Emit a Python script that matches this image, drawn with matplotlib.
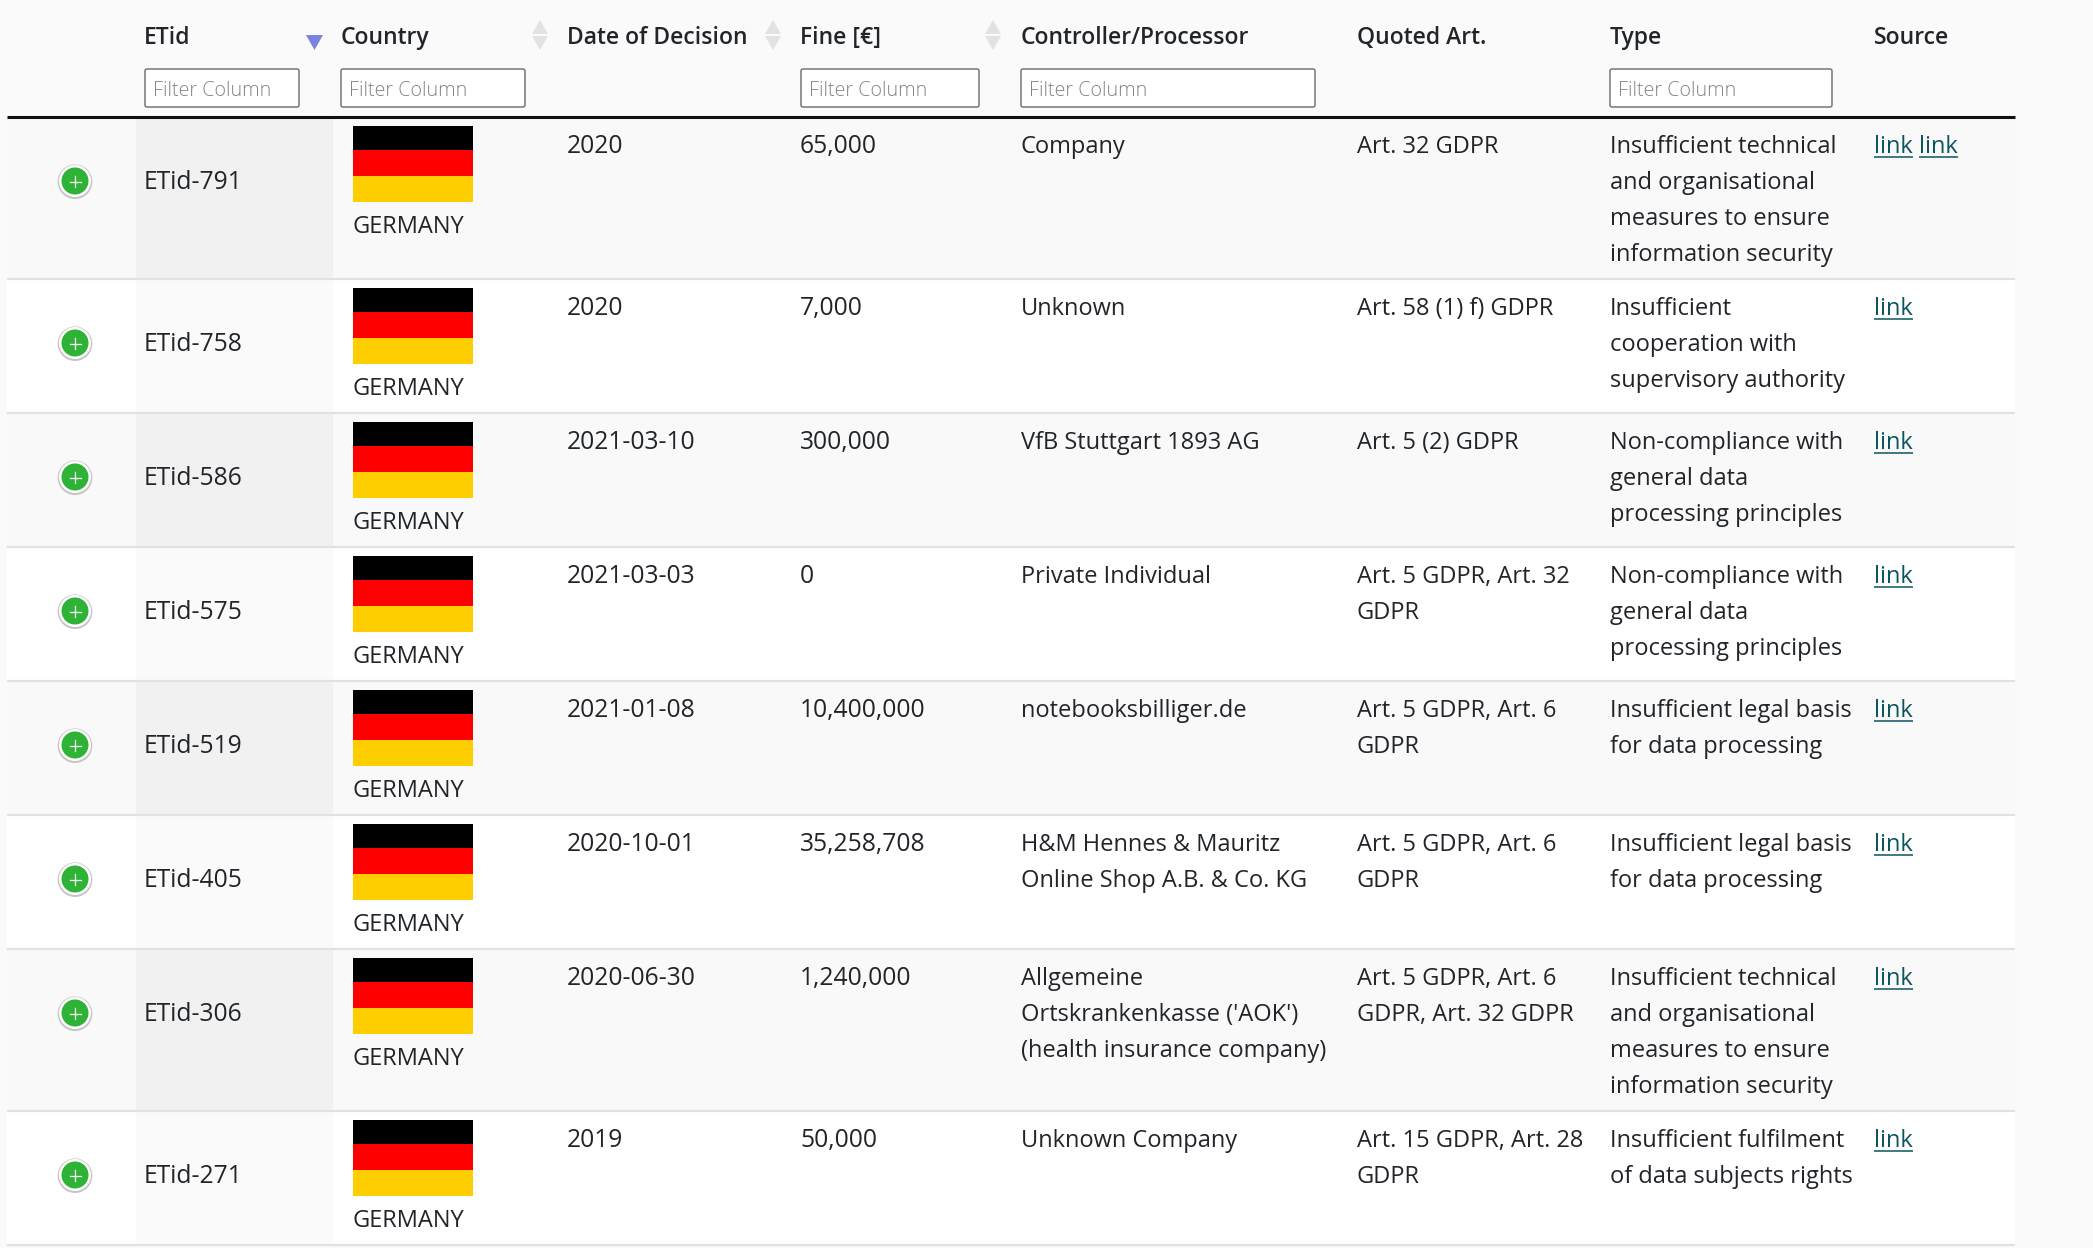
import matplotlib
matplotlib.use("Agg")
import matplotlib.pyplot as plt
from matplotlib.patches import Circle, FancyBboxPatch, Polygon

# ---- data ----
headers = ["ETid", "Country", "Date of Decision", "Fine [€]", "Controller/Processor", "Quoted Art.", "Type", "Source"]
etids = ["ETid-791", "ETid-758", "ETid-586", "ETid-575", "ETid-519", "ETid-405", "ETid-306", "ETid-271"]
countries = ["GERMANY"] * 8
dates = ["2020", "2020", "2021-03-10", "2021-03-03", "2021-01-08", "2020-10-01", "2020-06-30", "2019"]
fines = [65000, 7000, 300000, 0, 10400000, 35258708, 1240000, 50000]
controllers = [
    ["Company"], ["Unknown"], ["VfB Stuttgart 1893 AG"], ["Private Individual"],
    ["notebooksbilliger.de"], ["H&M Hennes & Mauritz", "Online Shop A.B. & Co. KG"],
    ["Allgemeine", "Ortskrankenkasse ('AOK')", "(health insurance company)"], ["Unknown Company"],
]
articles = [
    ["Art. 32 GDPR"], ["Art. 58 (1) f) GDPR"], ["Art. 5 (2) GDPR"], ["Art. 5 GDPR, Art. 32", "GDPR"],
    ["Art. 5 GDPR, Art. 6", "GDPR"], ["Art. 5 GDPR, Art. 6", "GDPR"],
    ["Art. 5 GDPR, Art. 6", "GDPR, Art. 32 GDPR"], ["Art. 15 GDPR, Art. 28", "GDPR"],
]
types = [
    ["Insufficient technical", "and organisational", "measures to ensure", "information security"],
    ["Insufficient", "cooperation with", "supervisory authority"],
    ["Non-compliance with", "general data", "processing principles"],
    ["Non-compliance with", "general data", "processing principles"],
    ["Insufficient legal basis", "for data processing"],
    ["Insufficient legal basis", "for data processing"],
    ["Insufficient technical", "and organisational", "measures to ensure", "information security"],
    ["Insufficient fulfilment", "of data subjects rights"],
]
link_counts = [2, 1, 1, 1, 1, 1, 1, 1]
placeholder = "Filter Column"

# ---- style / layout ----
plt.rcParams["font.family"] = ["Open Sans", "DejaVu Sans"]
W, H = 2093, 1248
PT = 0.72
FS = 23.65 * PT
FS_NUM = 24.6 * PT
FS_HEAD = 22.9 * PT
TXT = "#212529"
LINK = "#0b5560"
col_x = [144, 341, 567, 800, 1021, 1357, 1610, 1874]
flag_x, flag_w = 353, 120
left, right = 7, 2015
sort_l, sort_r = 136, 333
header_bottom = 117
filters = {0: (145, 154), 1: (341, 184), 3: (801, 178), 4: (1021, 294), 6: (1610, 222)}
sort_arrows = {1: 540, 2: 773, 3: 993}

fig = plt.figure(figsize=(W / 100, H / 100), dpi=100, facecolor="#fafafa")
ax = fig.add_axes([0, 0, 1, 1])
ax.set_xlim(0, W)
ax.set_ylim(H, 0)
ax.axis("off")

# headers
for j, h in enumerate(headers):
    ax.text(col_x[j], 44, h, fontsize=FS_HEAD, color=TXT, weight=600, va="baseline")
for j, (x, w) in filters.items():
    ax.add_patch(FancyBboxPatch((x + 2, 71), w - 4, 34, boxstyle="round,pad=2,rounding_size=2",
                                fc="white", ec="#767676", lw=1.1))
    ax.text(x + 8, 96, placeholder, fontsize=19.8 * PT, color="#858585", va="baseline", weight=300)
for x in sort_arrows.values():
    ax.add_patch(Polygon([(x - 8, 34), (x + 8, 34), (x, 20)], fc="#e2e2e2", ec="none"))
    ax.add_patch(Polygon([(x - 8, 36), (x + 8, 36), (x, 50)], fc="#e2e2e2", ec="none"))
ax.add_patch(Polygon([(306, 35), (323, 35), (314.5, 50)], fc="#7b83e0", ec="none"))


def lines_at(x, top, lines, color=TXT, size=FS):
    for k, s in enumerate(lines):
        ax.text(x, top + 36 + 36 * k, s, fontsize=size, color=color, va="baseline")


# rows
fig.canvas.draw()
rend = fig.canvas.get_renderer()
top = header_bottom
for i in range(len(etids)):
    n = max(len(controllers[i]), len(articles[i]), len(types[i]))
    h = max(134, n * 36 + 18)
    odd = i % 2 == 0
    ax.barh(top, right - left, height=h, left=left, align="edge", color="#f9f9f9" if odd else "white", lw=0, zorder=0)
    ax.barh(top, sort_r - sort_l, height=h, left=sort_l, align="edge", color="#f1f1f1" if odd else "#fafafa", lw=0, zorder=0.5)
    ax.plot([left, right], [top + h, top + h], color="#dee2e6", lw=2.2 * PT, solid_capstyle="butt", zorder=1)

    # expand button
    cy = top + 64
    ax.add_patch(Circle((75, cy + 0.7), 17.3, fc="#c4c4c4", ec="none", zorder=2))
    ax.add_patch(Circle((75, cy), 16, fc="white", ec="none", zorder=2.1))
    ax.add_patch(Circle((75, cy), 13.5, fc="#2fb336", ec="none", zorder=2.2))
    ax.plot([69.5, 80.5], [cy + 0.5, cy + 0.5], color="white", lw=0.9, zorder=3)
    ax.plot([75, 75], [cy - 5, cy + 6], color="white", lw=0.9, zorder=3)

    ax.text(col_x[0], top + 72, etids[i], fontsize=FS_NUM, color=TXT, va="baseline")

    # flag
    ax.barh(top + 9, flag_w, height=24, left=flag_x, align="edge", color="#000000", lw=0, zorder=2)
    ax.barh(top + 33, flag_w, height=26, left=flag_x, align="edge", color="#ff0000", lw=0, zorder=2)
    ax.barh(top + 59, flag_w, height=26, left=flag_x, align="edge", color="#ffce00", lw=0, zorder=2)
    ax.text(flag_x, top + 116, countries[i], fontsize=FS, color=TXT, va="baseline")

    lines_at(col_x[2], top, [dates[i]], size=FS_NUM)
    lines_at(col_x[3], top, [f"{fines[i]:,}"], size=FS_NUM)
    lines_at(col_x[4], top, controllers[i])
    lines_at(col_x[5], top, articles[i])
    lines_at(col_x[6], top, types[i])

    x = col_x[7]
    for _ in range(link_counts[i]):
        t = ax.text(x, top + 36, "link", fontsize=FS, color=LINK, va="baseline")
        w = t.get_window_extent(rend).width
        ax.plot([x, x + w], [top + 39.5, top + 39.5], color=LINK, lw=1.1, solid_capstyle="butt")
        x += w + 6
    top += h

ax.plot([left, right], [header_bottom, header_bottom], color="#111111", lw=2.2, solid_capstyle="butt", zorder=4)

fig.savefig("out.png", dpi=100, facecolor=fig.get_facecolor())
